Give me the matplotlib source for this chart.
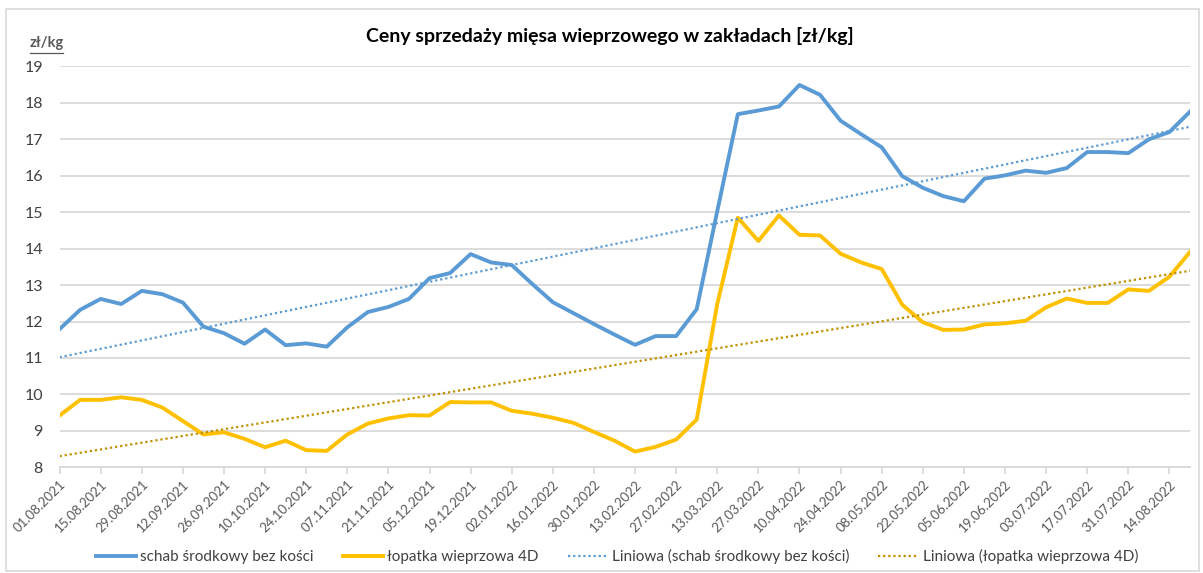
import numpy as np
import pandas as pd
import matplotlib.pyplot as plt
from matplotlib.patches import Rectangle

# weekly prices, 01.08.2021 - 21.08.2022
start_date = '2021-08-01'
n_weeks = 56

schab = [11.79, 12.32, 12.62, 12.48, 12.84, 12.75, 12.52, 11.86, 11.68, 11.39,
         11.78, 11.35, 11.40, 11.31, 11.84, 12.26, 12.40, 12.62, 13.19, 13.33,
         13.85, 13.62, 13.55, 13.03, 12.53, 12.23, 11.93, 11.64, 11.36, 11.60,
         11.60, 12.34, 15.03, 17.69, 17.79, 17.90, 18.49, 18.22, 17.51, 17.14,
         16.78, 15.99, 15.67, 15.44, 15.30, 15.92, 16.01, 16.14, 16.08, 16.21,
         16.65, 16.65, 16.62, 17.00, 17.20, 17.76]

lopatka = [9.42, 9.85, 9.85, 9.92, 9.85, 9.64, 9.27, 8.90, 8.96, 8.78,
           8.55, 8.73, 8.47, 8.45, 8.90, 9.20, 9.34, 9.43, 9.42, 9.79,
           9.78, 9.78, 9.55, 9.47, 9.36, 9.22, 8.97, 8.73, 8.43, 8.56,
           8.76, 9.31, 12.48, 14.85, 14.21, 14.91, 14.38, 14.36, 13.86, 13.62,
           13.44, 12.46, 11.98, 11.77, 11.78, 11.92, 11.95, 12.02, 12.39, 12.63,
           12.51, 12.51, 12.88, 12.84, 13.23, 13.91]

name_schab = 'schab środkowy bez kości'
name_lopatka = 'łopatka wieprzowa 4D'
title = 'Ceny sprzedaży mięsa wieprzowego w zakładach [zł/kg]'

dates = pd.date_range(start_date, periods=n_weeks, freq='7D')
tick_labels = [d.strftime('%d.%m.%Y') for d in dates]

plt.rcParams['font.family'] = ['Lato', 'DejaVu Sans']

blue = '#5B9BD5'
gold = '#FFC000'
gold_dark = '#BF9000'
txt = '#404040'

fig = plt.figure(figsize=(12.03, 5.73), dpi=100)
fig.patches.append(Rectangle((0.005, 0.003), 0.992, 0.982, transform=fig.transFigure,
                             fill=False, edgecolor='#d9d9d9', linewidth=1.2))
ax = fig.add_axes([0.0495, 0.1845, 0.9397, 0.6996])

x = np.arange(n_weeks)
ax.plot(x, schab, color=blue, lw=2.8, label=name_schab, solid_joinstyle='round')
ax.plot(x, lopatka, color=gold, lw=2.8, label=name_lopatka, solid_joinstyle='round')

# linear trend lines (Excel "Liniowa")
for y, c, nm in [(schab, blue, name_schab), (lopatka, gold_dark, name_lopatka)]:
    a, b = np.polyfit(x, y, 1)
    ax.plot(x, a * x + b, color=c, lw=1.6, linestyle=(0, (1, 1.3)),
            label='Liniowa (%s)' % nm)

ax.set_xlim(0, n_weeks - 1)
ax.set_ylim(8, 19)
ax.set_yticks(range(8, 20))
ax.yaxis.grid(True, color='#d9d9d9', lw=1.3)
ax.set_axisbelow(True)
for s in ['left', 'right', 'top']:
    ax.spines[s].set_visible(False)
ax.spines['bottom'].set_color('#d9d9d9')
ax.spines['bottom'].set_linewidth(1.3)
ax.tick_params(axis='y', length=0, labelsize=11.5, labelcolor=txt, pad=12)
ax.set_xticks(x[::2])
ax.set_xticklabels(tick_labels[::2], rotation=45, ha='right', rotation_mode='anchor',
                   fontsize=9.5, color='#595959')
ax.tick_params(axis='x', length=5, color='#d9d9d9', width=1.3, pad=3)

fig.text(0.507, 0.938, title, ha='center', va='center', fontsize=14, fontweight='bold',
         color='black')
fig.text(0.025, 0.925, 'zł/kg', ha='left', va='center', fontsize=10.5, fontweight='bold',
         color='#595959')
fig.lines.append(plt.Line2D([0.025, 0.052], [0.908, 0.908], transform=fig.transFigure,
                            color='#595959', lw=0.9))

fig.legend(loc='center', bbox_to_anchor=(0.513, 0.028), ncol=4, frameon=False,
           fontsize=11, labelcolor=txt, handlelength=2.6, columnspacing=1.9,
           handletextpad=0.3)

fig.savefig('out.png', dpi=100)
